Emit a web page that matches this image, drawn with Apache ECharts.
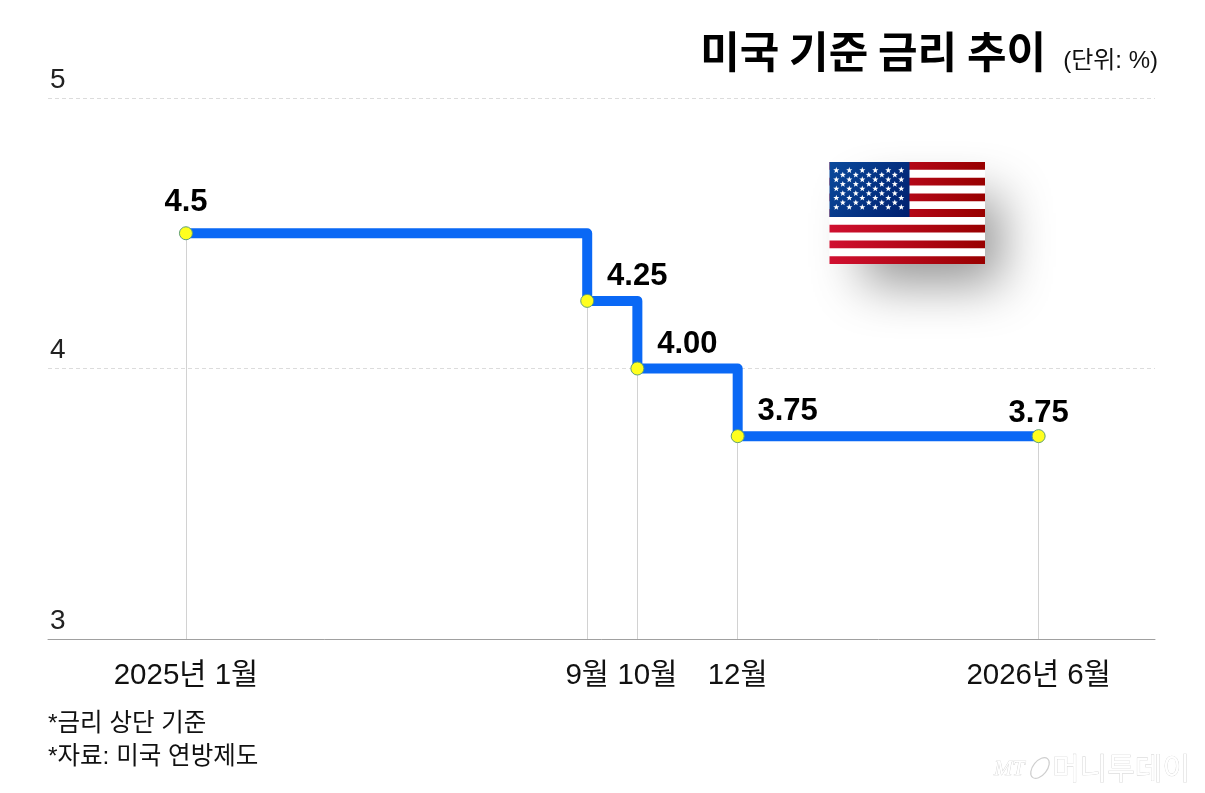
<!DOCTYPE html>
<html><head><meta charset="utf-8">
<style>html,body{margin:0;padding:0;background:#fff}#c{width:1205px;height:793px}</style>
<script src="https://cdn.jsdelivr.net/npm/echarts@6/dist/echarts.min.js"></script>
</head><body><div id="c"></div>
<script>
// months since January 2025
const months = [0, 8, 9, 11, 17];
const rates = [4.5, 4.25, 4.0, 3.75, 3.75];
const rateLabels = ['4.5', '4.25', '4.00', '3.75', '3.75'];
const monthLabels = ['2025년 1월', '9월', '10월', '12월', '2026년 6월'];
const yTicks = [3, 4, 5];
const titleText = '미국 기준 금리 추이';
const unitText = '(단위: %)';
const notes = ['*금리 상단 기준', '*자료: 미국 연방제도'];

const LATIN = '"Liberation Sans","Noto Sans CJK KR",sans-serif';
const KR = '"Noto Sans CJK KR",sans-serif';

const flag = [];
const FX = 829.5, FY = 162, FW = 155.5, FH = 102, STRIPE = FH / 13;
const redGrad = {type:'linear',x:0,y:0,x2:1,y2:0,colorStops:[{offset:0,color:'#d01030'},{offset:1,color:'#980000'}]};
flag.push({type:'rect',z:1,shape:{x:FX+14,y:FY+14,width:FW-18,height:FH-14},
  style:{fill:'#fff',shadowBlur:50,shadowOffsetX:20,shadowOffsetY:20,shadowColor:'rgba(0,0,0,0.42)'}});
flag.push({type:'rect',z:2,shape:{x:FX,y:FY,width:FW,height:FH},style:{fill:'#fff'}});
for (let i = 0; i < 13; i += 2) {
  flag.push({type:'rect',z:3,shape:{x:FX,y:FY+i*STRIPE,width:FW,height:STRIPE},style:{fill:redGrad}});
}
flag.push({type:'rect',z:4,shape:{x:FX,y:FY,width:80,height:STRIPE*7},
  style:{fill:{type:'linear',x:0,y:0,x2:1,y2:1,colorStops:[{offset:0,color:'#0a4a9c'},{offset:1,color:'#001f6e'}]}}});
function starPts(cx, cy, r) {
  const p = [];
  for (let i = 0; i < 10; i++) {
    const a = -Math.PI/2 + i*Math.PI/5, q = i%2 ? r*0.42 : r;
    p.push([cx+q*Math.cos(a), cy+q*Math.sin(a)]);
  }
  return p;
}
for (let row = 0; row < 9; row++) {
  const n = row%2 ? 5 : 6;
  for (let k = 0; k < n; k++) {
    flag.push({type:'polygon',z:5,shape:{points:starPts(836.3+(row%2?6.5:0)+k*13, 170.3+row*4.62, 3.2)},style:{fill:'#fff'}});
  }
}

const chart = echarts.init(document.getElementById('c'), null, {renderer:'canvas'});
chart.setOption({
  animation:false,
  backgroundColor:'#fff',
  grid:{left:48,right:50,top:98,bottom:154,containLabel:false},
  xAxis:{
    type:'value',min:-2.75,max:19.32,
    axisLine:{show:true,onZero:false,lineStyle:{color:'#a0a0a0',width:1}},
    axisTick:{show:false},
    splitLine:{show:false},
    axisLabel:{
      customValues:months,margin:22,color:'#111',fontSize:29.5,fontFamily:LATIN,
      formatter:v=>{
        const t = monthLabels[months.indexOf(v)];
        return t === '10월' ? '{shift|'+t+'}' : t;
      },
      rich:{shift:{padding:[0,0,0,20],fontSize:29.5,fontFamily:LATIN,color:'#111'}}
    }
  },
  yAxis:{
    type:'value',min:yTicks[0],max:yTicks[2],interval:1,
    axisLine:{show:false},axisTick:{show:false},
    splitLine:{show:true,lineStyle:{color:'#dcdcdc',type:[4,3],width:1}},
    axisLabel:{inside:true,margin:2,color:'#222',fontSize:28,fontFamily:LATIN,verticalAlign:'bottom',padding:[0,0,4,0]}
  },
  series:[{
    type:'line',
    step:'end',
    data:months.map((m,i)=>[m,rates[i]]),
    lineStyle:{color:'#0a68f5',width:10,join:'round',cap:'round'},
    symbol:'circle',symbolSize:13,
    itemStyle:{color:'#ffff1e',borderColor:'#5f9f78',borderWidth:1},
    z:5,
    label:{
      show:true,position:'top',distance:3,
      fontSize:31,fontWeight:'bold',color:'#000',fontFamily:LATIN,
      formatter:p=>rateLabels[p.dataIndex]
    },
    labelLayout:p=>{
      const i = p.dataIndex;
      if (i === 0) return {dy:-5};
      return i < months.length-1 ? {dx:50,dy:1} : {dy:3};
    },
    markLine:{
      silent:true,symbol:'none',label:{show:false},animation:false,z:1,
      lineStyle:{color:'#d2d2d2',width:1,type:'solid'},
      data:months.map((m,i)=>[{coord:[m,rates[i]]},{coord:[m,yTicks[0]]}])
    }
  }],
  graphic:[
    ...flag,
    {type:'text',z:10,style:{x:1046,y:52,text:titleText,align:'right',verticalAlign:'middle',fill:'#000',font:'bold 43px '+KR}},
    {type:'text',z:10,style:{x:1158,y:61,text:unitText,align:'right',verticalAlign:'middle',fill:'#111',font:'24px '+LATIN}},
    {type:'text',z:10,style:{x:48,y:724,text:notes[0],align:'left',verticalAlign:'middle',fill:'#111',font:'24.5px '+LATIN}},
    {type:'text',z:10,style:{x:48,y:757,text:notes[1],align:'left',verticalAlign:'middle',fill:'#111',font:'24.5px '+LATIN}},
    {type:'text',z:10,style:{x:994,y:769,text:'MT',align:'left',verticalAlign:'middle',fill:'#fff',font:'italic 22px "Liberation Serif",serif',stroke:'#cfcfcf',lineWidth:0.7}},
    {type:'ellipse',z:10,x:1040,y:768,rotation:0.9,shape:{cx:0,cy:0,rx:12,ry:7},style:{fill:'none',stroke:'#cfcfcf',lineWidth:1.2}},
    {type:'text',z:10,style:{x:1190,y:768,text:'머니투데이',align:'right',verticalAlign:'middle',fill:'#fff',font:'30px '+KR,stroke:'#cfcfcf',lineWidth:0.7}}
  ]
});
</script></body></html>
